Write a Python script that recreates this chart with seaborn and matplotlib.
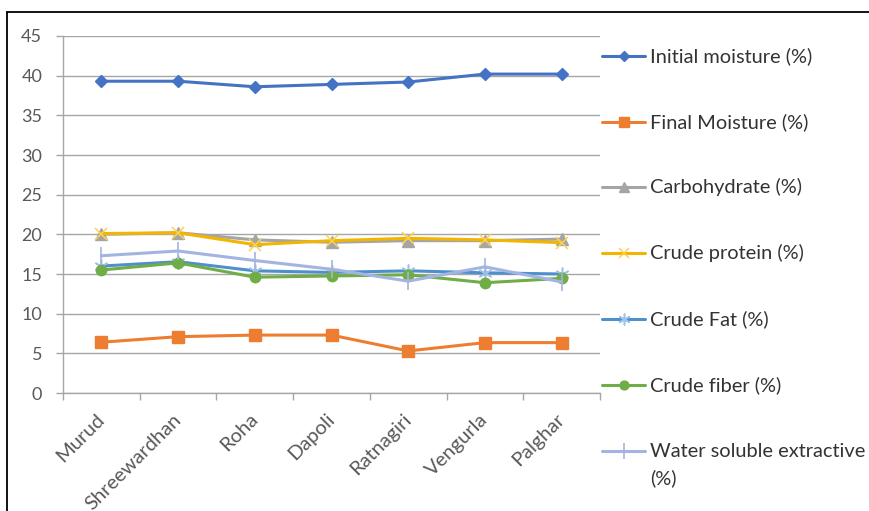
import pandas as pd
import seaborn as sns
import matplotlib.pyplot as plt
from matplotlib.lines import Line2D

# ---- data -------------------------------------------------------------
locations = ["Murud", "Shreewardhan", "Roha", "Dapoli", "Ratnagiri", "Vengurla", "Palghar"]

initial_moisture = [39.3, 39.3, 38.6, 38.9, 39.2, 40.2, 40.2]
final_moisture = [6.4, 7.1, 7.3, 7.3, 5.3, 6.35, 6.35]
carbohydrate = [20.0, 20.2, 19.3, 19.0, 19.2, 19.2, 19.4]
crude_protein = [20.1, 20.2, 18.7, 19.2, 19.5, 19.3, 18.95]
crude_fat = [16.0, 16.55, 15.4, 15.2, 15.4, 15.15, 15.0]
crude_fiber = [15.5, 16.4, 14.6, 14.75, 14.9, 13.9, 14.45]
water_soluble = [17.3, 17.9, 16.7, 15.6, 14.1, 15.9, 14.0]

series_names = [
    "Initial moisture (%)",
    "Final Moisture (%)",
    "Carbohydrate (%)",
    "Crude protein (%)",
    "Crude Fat (%)",
    "Crude fiber (%)",
    "Water soluble extractive\n(%)",
]
series_values = [initial_moisture, final_moisture, carbohydrate, crude_protein,
                 crude_fat, crude_fiber, water_soluble]
y_ticks = [0, 5, 10, 15, 20, 25, 30, 35, 40, 45]

# ---- styles -----------------------------------------------------------
line_colors = ["#4472C4", "#ED7D31", "#A5A5A5", "#F2B600", "#4F8FCB", "#70AD47", "#A3B4E2"]
marker_colors = ["#4472C4", "#ED7D31", "#A5A5A5", "#FFD24D", "#9CC2E8", "#70AD47", "#A3B4E2"]
markers = ["D", "s", "^", "x", (6, 2, 0), "o", "|"]
marker_sizes = [6.5, 8, 8.5, 9, 10, 7.5, 13]
marker_edge = [1, 1, 1, 1.1, 1.1, 1, 1.2]

long = pd.DataFrame({
    "location": locations * len(series_names),
    "value": [v for vals in series_values for v in vals],
    "series": [n for n in series_names for _ in locations],
})

sns.set_style("white")
plt.rcParams["font.family"] = ["Lato", "DejaVu Sans"]
TEXT = "#595959"
GRID = "#A6A6A6"

W, H = 869, 511
fig = plt.figure(figsize=(W / 100, H / 100), dpi=100)
ax = fig.add_axes([63 / W, 1 - 393 / H, (600 - 63) / W, (393 - 36) / H])

for i, name in enumerate(series_names):
    sub = long[long["series"] == name]
    sns.lineplot(data=sub, x="location", y="value", ax=ax, sort=False,
                 color=line_colors[i], linewidth=2.2, marker=markers[i],
                 markersize=marker_sizes[i], markerfacecolor=marker_colors[i],
                 markeredgecolor=marker_colors[i], markeredgewidth=marker_edge[i],
                 legend=False, zorder=3 + i)

ax.set_xlim(-0.5, len(locations) - 0.5)
ax.set_ylim(0, 45)
ax.set_yticks(y_ticks)
ax.set_yticklabels([str(t) for t in y_ticks])
ax.set_xlabel("")
ax.set_ylabel("")
ax.grid(axis="y", color=GRID, linewidth=1.0)
ax.grid(axis="x", visible=False)
for side in ["top", "right"]:
    ax.spines[side].set_visible(False)
for side in ["left", "bottom"]:
    ax.spines[side].set_color(GRID)
    ax.spines[side].set_linewidth(1.0)

# y ticks as short outward marks
ax.tick_params(axis="y", length=5, width=1, color=GRID, direction="out",
               pad=10, labelsize=13, labelcolor=TEXT, left=True)
# x ticks sit on the category boundaries
ax.set_xticks(range(len(locations)))
ax.set_xticklabels(locations, rotation=45, ha="right", va="center",
                   rotation_mode="anchor", fontsize=14.5, color=TEXT)
ax.tick_params(axis="x", length=0, pad=17)
ax.set_xticks([i - 0.5 for i in range(len(locations) + 1)], minor=True)
ax.tick_params(axis="x", which="minor", length=5, width=1, color=GRID,
               direction="out", bottom=True)

# ---- legend to the right -------------------------------------------------
leg_y = [56, 122, 187, 253, 319, 385, 451]
line_gap = 27
for i, name in enumerate(series_names):
    yy = 1 - leg_y[i] / H
    fig.add_artist(Line2D([602 / W, 645 / W], [yy, yy], color=line_colors[i],
                          linewidth=2.2, transform=fig.transFigure))
    fig.add_artist(Line2D([623.5 / W], [yy], marker=markers[i], linestyle="none",
                          markersize=marker_sizes[i] * 0.85,
                          markerfacecolor=marker_colors[i],
                          markeredgecolor=marker_colors[i],
                          markeredgewidth=marker_edge[i],
                          transform=fig.transFigure))
    for k, part in enumerate(name.split("\n")):
        fig.text(650 / W, 1 - (leg_y[i] + k * line_gap) / H, part,
                 fontsize=14.4, color="#333333", ha="left", va="center",
                 transform=fig.transFigure)

# chart-area frame
fig.add_artist(Line2D([7 / W, 1], [1 - 12 / H, 1 - 12 / H], color="black",
                      linewidth=1.3, transform=fig.transFigure))
fig.add_artist(Line2D([7 / W, 7 / W], [0, 1 - 12 / H], color="black",
                      linewidth=1.3, transform=fig.transFigure))

fig.savefig("out.png", dpi=100)
